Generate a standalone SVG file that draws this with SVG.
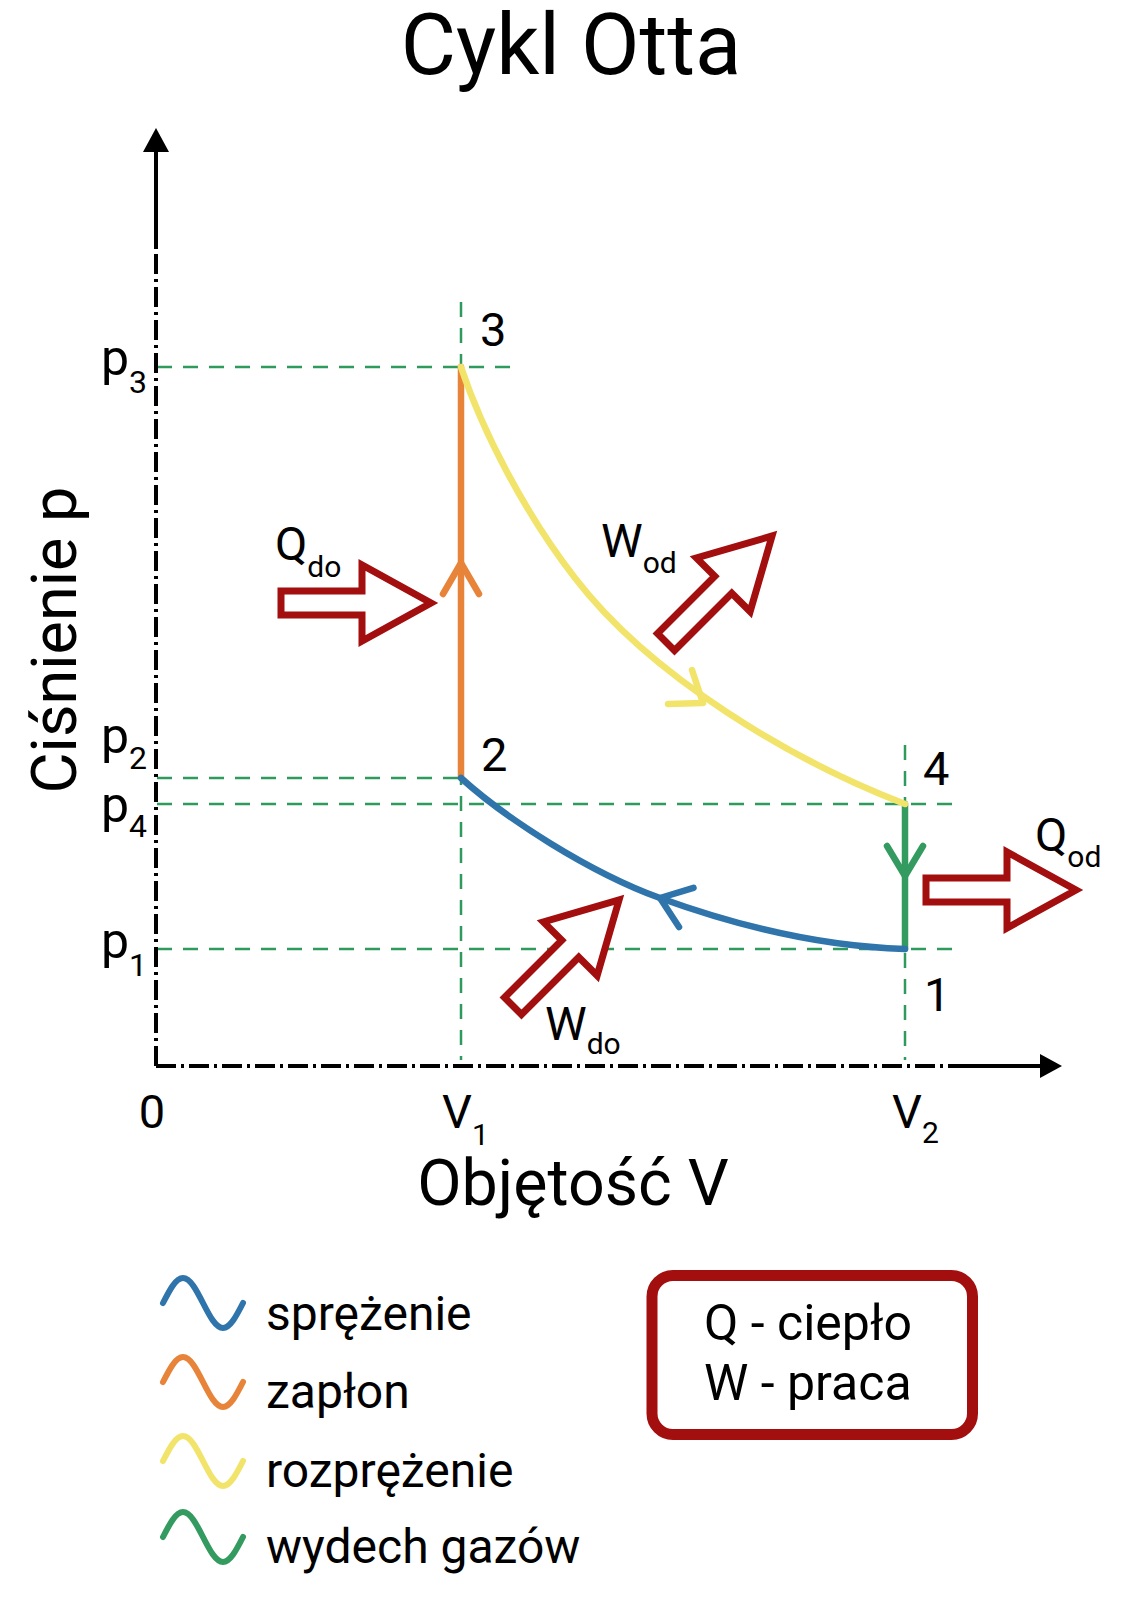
<svg xmlns="http://www.w3.org/2000/svg" width="1142" height="1600" viewBox="0 0 1142 1600">
<style>
text { font-family: Roboto, "Liberation Sans", Arial, sans-serif; fill: #000; }
.guide { stroke: #2e9a5b; stroke-width: 2.5; stroke-dasharray: 15 11; fill: none; }
.axis { stroke: #000; stroke-width: 4; fill: none; }
.dashdot { stroke-dasharray: 20 5 3 5; }
.proc { fill: none; stroke-width: 6.5; stroke-linecap: round; stroke-linejoin: round; }
.big { fill: #fff; stroke: #a30e0e; stroke-width: 7; stroke-linejoin: miter; stroke-miterlimit: 10; }
.lab { font-size: 47px; }
.plab { font-size: 50px; }
.psub { font-size: 32px; }
.sub { font-size: 30px; }
.leg { font-size: 48px; }
.wave { fill: none; stroke-width: 6; stroke-linecap: round; }
.blue { stroke: #2f74ab; }
.orange { stroke: #e8833a; }
.yellow { stroke: #f2e46a; }
.green { stroke: #339b5f; }
</style>
<defs>
<path id="fat" d="M0,-12 H81 V-38 L150,0 L81,38 V12 H0 Z"/>
<path id="sine" d="M0,0 C6.52,-12.8 12.76,-25 20,-25 C27.24,-25 33.48,-12.8 40,0 C46.52,12.8 52.76,25 60,25 C67.24,25 73.48,12.8 80,0"/>
</defs>
<rect width="1142" height="1600" fill="#fff"/>

<g id="title">
<text x="571" y="74" font-size="85" text-anchor="middle">Cykl Otta</text>
</g>

<g id="guides">
<line class="guide" x1="157" y1="367" x2="517" y2="367"/>
<line class="guide" x1="157" y1="778" x2="461" y2="778"/>
<line class="guide" x1="157" y1="804" x2="963" y2="804"/>
<line class="guide" x1="157" y1="949" x2="963" y2="949"/>
<line class="guide" x1="461" y1="302" x2="461" y2="1060"/>
<line class="guide" x1="905" y1="745" x2="905" y2="1060"/>
</g>

<g id="axes">
<path class="axis dashdot" d="M156,1066 V247"/>
<path class="axis dashdot" d="M156,1066 H961"/>
<path class="axis" d="M156,249 V148"/>
<path class="axis" d="M959,1066 H1042"/>
<polygon points="156,128 143,152 169,152" fill="#000"/>
<polygon points="1062,1066 1040,1054 1040,1078" fill="#000"/>
<text x="0" y="0" font-size="63" text-anchor="middle" transform="translate(76,640) rotate(-90)">Ciśnienie p</text>
<text x="573" y="1205" font-size="64.5" text-anchor="middle">Objętość V</text>
<text class="lab" x="152" y="1128" text-anchor="middle">0</text>
<text class="lab" x="442" y="1128">V<tspan class="sub" dy="17">1</tspan></text>
<text class="lab" x="892" y="1128">V<tspan class="sub" dy="15">2</tspan></text>
<text class="plab" x="101" y="375">p<tspan class="psub" dy="18">3</tspan></text>
<text class="plab" x="101" y="753">p<tspan class="psub" dy="16">2</tspan></text>
<text class="plab" x="101" y="822">p<tspan class="psub" dy="15">4</tspan></text>
<text class="plab" x="101" y="958">p<tspan class="psub" dy="18">1</tspan></text>
</g>

<g id="connectors">
<g id="zaplon">
<path class="proc orange" d="M461,777 V367"/>
<path class="proc orange" d="M443,594 L461,563 L479,594"/>
</g>
<g id="wydech">
<path class="proc green" d="M905,804 V949"/>
<path class="proc green" d="M887,846 L905,876 L923,846"/>
</g>
<g id="rozprezenie">
<path class="proc yellow" d="M461,367 C483,433 526,515 575,578 C651,677 793,761 905,804"/>
<path class="proc yellow" d="M692,670 L703,703 L668,704"/>
</g>
<g id="sprezenie">
<path class="proc blue" d="M461,778 C505,818 589.5,872.4 660,898 C740,927 825,946.6 905,949"/>
<path class="proc blue" d="M693.5,887.8 L660,898 L679,927"/>
</g>
</g>

<g id="points">
<g id="p3"><text class="lab" x="480" y="346">3</text></g>
<g id="p2"><text class="lab" x="481" y="771">2</text></g>
<g id="p4"><text class="lab" x="923" y="785">4</text></g>
<g id="p1"><text class="lab" x="924" y="1011">1</text></g>
</g>

<g id="energy">
<g id="Qdo">
<use href="#fat" class="big" transform="translate(281,603)"/>
<text class="lab" x="275" y="560">Q<tspan class="sub" dy="17">do</tspan></text>
</g>
<g id="Qod">
<use href="#fat" class="big" transform="translate(926,890)"/>
<text class="lab" x="1035" y="851">Q<tspan class="sub" dy="16">od</tspan></text>
</g>
<g id="Wod">
<use href="#fat" class="big" transform="translate(666,642) rotate(-45)"/>
<text class="lab" x="601" y="557">W<tspan class="sub" dy="16">od</tspan></text>
</g>
<g id="Wdo">
<use href="#fat" class="big" transform="translate(513,1006) rotate(-45)"/>
<text class="lab" x="545" y="1040">W<tspan class="sub" dy="14">do</tspan></text>
</g>
</g>

<g id="legend">
<g id="leg-sprezenie"><use href="#sine" class="wave blue" transform="translate(163,1303)"/><text class="leg" x="266" y="1330">sprężenie</text></g>
<g id="leg-zaplon"><use href="#sine" class="wave orange" transform="translate(163,1382)"/><text class="leg" x="266" y="1408">zapłon</text></g>
<g id="leg-rozprezenie"><use href="#sine" class="wave yellow" transform="translate(163,1461)"/><text class="leg" x="266" y="1487">rozprężenie</text></g>
<g id="leg-wydech"><use href="#sine" class="wave green" transform="translate(163,1537)"/><text class="leg" x="266" y="1563">wydech gazów</text></g>
</g>

<g id="key">
<rect x="652" y="1275.5" width="320.5" height="159" rx="21" fill="#fff" stroke="#a30e0e" stroke-width="11"/>
<text x="704" y="1340" font-size="50">Q - ciepło</text>
<text x="704" y="1400" font-size="50">W - praca</text>
</g>
</svg>
